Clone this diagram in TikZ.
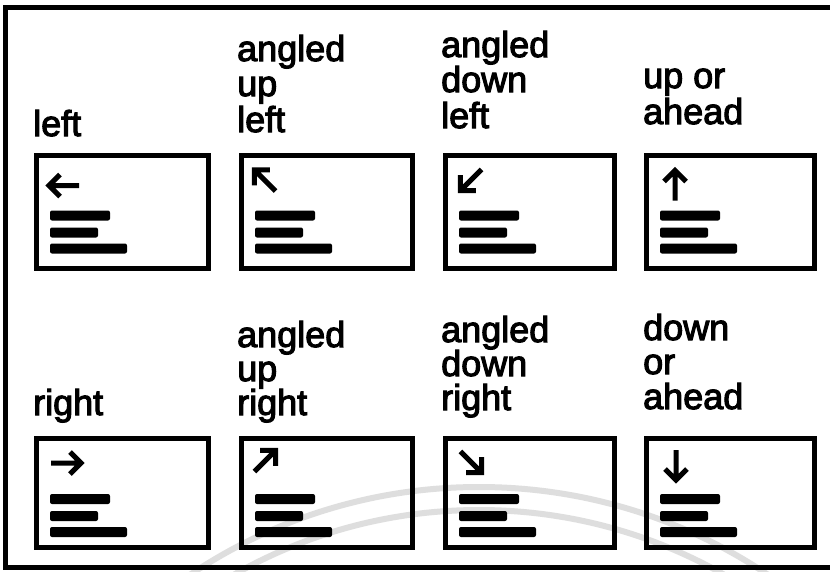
\documentclass[tikz,border=0pt]{standalone}
\usepackage{fontspec}
\setmainfont{Liberation Sans}[FakeBold=3]
\newcommand{\panelfill}[4]{%
  \begin{scope}[shift={(#1.north west)}]
    \draw[arr, shift={(#2,#3)}, rotate=#4] (-15,0) -- (15,0) (4,-11) -- (15,0) -- (4,11);
    \fill[bar] (16,58) rectangle ++(60,10);
    \fill[bar] (16,75) rectangle ++(48,10);
    \fill[bar] (16,91) rectangle ++(77,10);
  \end{scope}}
\begin{document}
\begin{tikzpicture}[x=1pt,y=-1pt,
  frameline/.style={line width=5pt, line cap=butt},
  panel/.style={draw, line width=5pt, anchor=north west, inner sep=0pt, minimum width=#1},
  panel/.default=171pt,
  arr/.style={line width=5pt, line cap=butt, line join=miter},
  bar/.style={black, rounded corners=2pt},
  lab/.style={anchor=base west, inner sep=0pt, font=\fontsize{36}{36}\selectfont},
  wm/.style={line width=6pt, black!13}]
\useasboundingbox (0,0) rectangle (830,571);
\fill[white] (0,0) rectangle (830,571);
% faint watermark arcs of the scan
\draw[wm] (479,1006) circle (519);
\draw[wm] (479,1006) circle (496);
% frame
\draw[frameline] (832,7.5) -- (5.5,7.5) -- (5.5,567) -- (832,567);
% top row panels
\node[panel=172pt, minimum height=113pt] (p1) at (34,152.5) {};
\node[panel=171pt, minimum height=113pt] (p2) at (239,152.5) {};
\node[panel=169pt, minimum height=113pt] (p3) at (443,152.5) {};
\node[panel=168pt, minimum height=113pt] (p4) at (644,152.5) {};
% bottom row panels
\node[panel=172pt, minimum height=109pt] (q1) at (34,436) {};
\node[panel=171pt, minimum height=109pt] (q2) at (239,436) {};
\node[panel=169pt, minimum height=109pt] (q3) at (443,436) {};
\node[panel=168pt, minimum height=109pt] (q4) at (644,436) {};
% contents
\panelfill{p1}{30}{33}{180}
\panelfill{p2}{26}{28}{135}
\panelfill{p3}{28}{27.5}{225}
\panelfill{p4}{31}{33}{90}
\panelfill{q1}{32}{27}{0}
\panelfill{q2}{26}{25}{45}
\panelfill{q3}{28}{26}{315}
\panelfill{q4}{32}{29}{270}
% labels top row
\node[lab] (a1) at (33,136) {left};
\node[lab] (a2a) at (237,61) {angled};
\node[lab] (a2b) at (237,96) {up};
\node[lab] (a2c) at (237,132) {left};
\node[lab] (a3a) at (441,57) {angled};
\node[lab] (a3b) at (441,92) {down};
\node[lab] (a3c) at (441,128) {left};
\node[lab] (a4a) at (643,88) {up or};
\node[lab] (a4b) at (643,124) {ahead};
% labels bottom row
\node[lab] (b1) at (33,415) {right};
\node[lab] (b2a) at (237,347) {angled};
\node[lab] (b2b) at (237,381) {up};
\node[lab] (b2c) at (237,415) {right};
\node[lab] (b3a) at (441,342) {angled};
\node[lab] (b3b) at (441,376) {down};
\node[lab] (b3c) at (441,410) {right};
\node[lab] (b4a) at (643,340) {down};
\node[lab] (b4b) at (643,374) {or};
\node[lab] (b4c) at (643,409) {ahead};
\end{tikzpicture}
\end{document}
